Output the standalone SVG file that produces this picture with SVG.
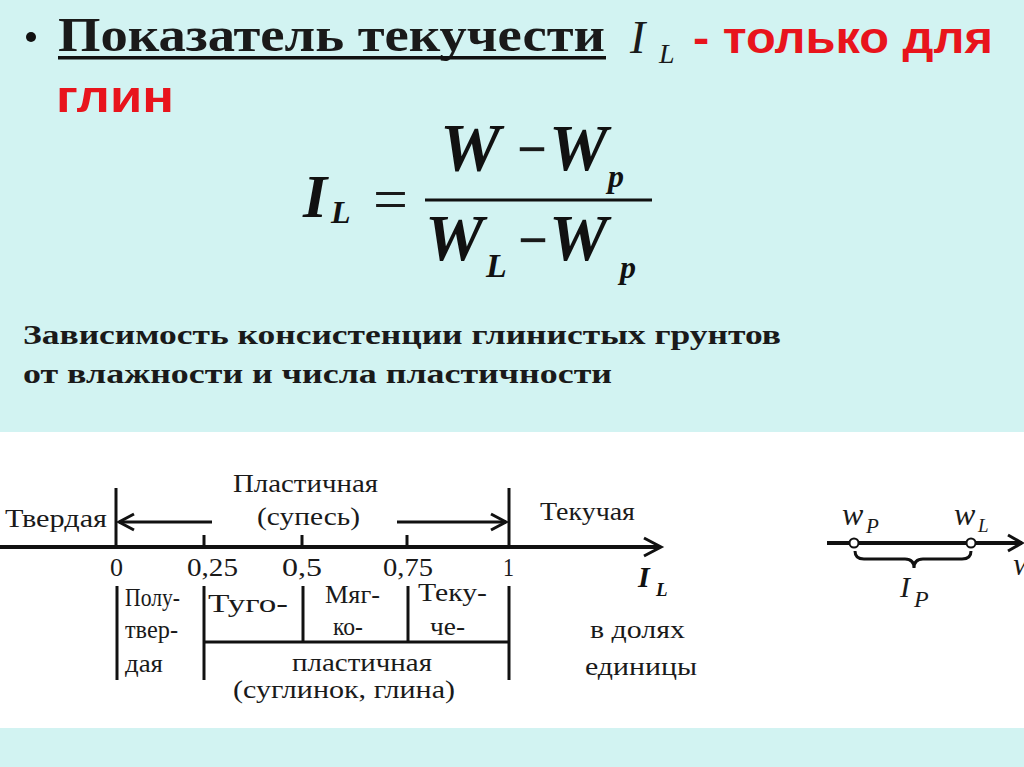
<svg xmlns="http://www.w3.org/2000/svg" width="1024" height="767" viewBox="0 0 1024 767">
<style>
.ser{font-family:"Liberation Serif","Times New Roman",serif;fill:#1a1a1a}
.lbl{font-family:"Liberation Serif","Times New Roman",serif;font-size:26px;fill:#1a1a1a}
.mi{font-family:"Liberation Serif","Times New Roman",serif;font-style:italic;font-weight:bold;fill:#111}
.red{font-family:"Liberation Sans",Arial,sans-serif;font-weight:bold;fill:#e8141c}
.ln{stroke:#111;stroke-width:3;fill:none}
.ax{stroke:#111;stroke-width:4;fill:none}
</style>
<rect x="0" y="0" width="1024" height="767" fill="#d2f3f2"/>
<rect x="0" y="432" width="1024" height="296" fill="#ffffff"/>

<g id="title">
<circle cx="31" cy="37" r="5" fill="#111"/>
<text class="ser" x="58" y="51" font-size="48" font-weight="bold" textLength="547" lengthAdjust="spacingAndGlyphs">Показатель текучести</text>
<rect x="58" y="56" width="548" height="3.5" fill="#111"/>
<text class="ser" x="630" y="53" font-size="46" font-style="italic">I</text>
<text class="ser" x="659" y="63" font-size="28" font-style="italic">L</text>
<text class="red" x="693" y="53" font-size="44" textLength="300" lengthAdjust="spacingAndGlyphs">- только для</text>
<text class="red" x="56" y="112" font-size="44" textLength="118" lengthAdjust="spacingAndGlyphs">глин</text>
</g>

<g id="formula">
<text class="mi" x="303" y="217" font-size="62">I</text>
<text class="mi" x="331" y="223" font-size="32">L</text>
<text class="ser" x="373" y="220" font-size="62">=</text>
<text class="mi" x="440" y="170" font-size="68">W</text>
<text class="ser" x="517" y="168" font-size="56" font-weight="bold" textLength="30" lengthAdjust="spacingAndGlyphs">−</text>
<text class="mi" x="549" y="170" font-size="66">W</text>
<text class="mi" x="608" y="187" font-size="32">p</text>
<line x1="425" y1="200" x2="652" y2="200" stroke="#111" stroke-width="3"/>
<text class="mi" x="425" y="260" font-size="66">W</text>
<text class="mi" x="486" y="277" font-size="34">L</text>
<text class="ser" x="518" y="259" font-size="56" font-weight="bold" textLength="30" lengthAdjust="spacingAndGlyphs">−</text>
<text class="mi" x="549" y="260" font-size="66">W</text>
<text class="mi" x="620" y="278" font-size="32">p</text>
</g>

<g id="subtitle">
<text class="ser" x="23" y="344" font-size="27" font-weight="bold" fill="#262626" textLength="758" lengthAdjust="spacingAndGlyphs">Зависимость консистенции глинистых грунтов</text>
<text class="ser" x="23" y="383" font-size="27" font-weight="bold" fill="#262626" textLength="589" lengthAdjust="spacingAndGlyphs">от влажности  и числа пластичности</text>
</g>

<g id="connectors">
<line class="ax" x1="0" y1="547" x2="660" y2="547"/>
<polyline class="ln" points="644,538 661,547 644,556"/>
<line class="ln" x1="116" y1="488" x2="116" y2="547"/>
<line class="ln" x1="509" y1="488" x2="509" y2="547"/>
<line class="ln" x1="204" y1="535" x2="204" y2="547"/>
<line class="ln" x1="302" y1="535" x2="302" y2="547"/>
<line class="ln" x1="407" y1="535" x2="407" y2="547"/>
<line class="ln" x1="212" y1="522" x2="119" y2="522"/>
<polyline class="ln" points="134,514 119,522 134,530"/>
<line class="ln" x1="397" y1="522" x2="506" y2="522"/>
<polyline class="ln" points="491,514 506,522 491,530"/>
<line class="ln" x1="117" y1="586" x2="117" y2="680"/>
<line class="ln" x1="204" y1="586" x2="204" y2="680"/>
<line class="ln" x1="303" y1="586" x2="303" y2="642"/>
<line class="ln" x1="408" y1="586" x2="408" y2="642"/>
<line class="ln" x1="509" y1="586" x2="509" y2="680"/>
<line class="ln" x1="204" y1="642" x2="509" y2="642"/>
<line class="ax" x1="827" y1="543" x2="1022" y2="543"/>
<polyline class="ln" points="1008,535 1022,543 1008,551"/>
<circle cx="854" cy="543" r="4.5" fill="#fff" stroke="#111" stroke-width="2"/>
<circle cx="971" cy="543" r="4.5" fill="#fff" stroke="#111" stroke-width="2"/>
<path class="ln" d="M855,551 Q855,559 864,559 L905,559 Q914,559 914,568 Q914,559 923,559 L962,559 Q971,559 971,551"/>
</g>

<g id="scale-labels">
<text class="lbl" x="5" y="527" textLength="102" lengthAdjust="spacingAndGlyphs">Твердая</text>
<text class="lbl" x="233" y="492" textLength="145" lengthAdjust="spacingAndGlyphs">Пластичная</text>
<text class="lbl" x="257" y="525" textLength="103" lengthAdjust="spacingAndGlyphs">(супесь)</text>
<text class="lbl" x="540" y="520" textLength="95" lengthAdjust="spacingAndGlyphs">Текучая</text>
<text class="lbl" x="110" y="576" textLength="13" lengthAdjust="spacingAndGlyphs">0</text>
<text class="lbl" x="187" y="576" textLength="51" lengthAdjust="spacingAndGlyphs">0,25</text>
<text class="lbl" x="282" y="576" textLength="40" lengthAdjust="spacingAndGlyphs">0,5</text>
<text class="lbl" x="383" y="576" textLength="50" lengthAdjust="spacingAndGlyphs">0,75</text>
<text class="lbl" x="503" y="576" textLength="11" lengthAdjust="spacingAndGlyphs">1</text>
<text class="mi" x="638" y="587" font-size="30">I</text>
<text class="mi" x="656" y="596" font-size="19">L</text>
</g>

<g id="zones">
<text class="lbl" x="125" y="606" textLength="55" lengthAdjust="spacingAndGlyphs">Полу-</text>
<text class="lbl" x="125" y="638" textLength="53" lengthAdjust="spacingAndGlyphs">твер-</text>
<text class="lbl" x="125" y="672" textLength="38" lengthAdjust="spacingAndGlyphs">дая</text>
<text class="lbl" x="208" y="612" textLength="80" lengthAdjust="spacingAndGlyphs">Туго-</text>
<text class="lbl" x="325" y="603" textLength="55" lengthAdjust="spacingAndGlyphs">Мяг-</text>
<text class="lbl" x="333" y="635" textLength="30" lengthAdjust="spacingAndGlyphs">ко-</text>
<text class="lbl" x="418" y="601" textLength="69" lengthAdjust="spacingAndGlyphs">Теку-</text>
<text class="lbl" x="430" y="635" textLength="35" lengthAdjust="spacingAndGlyphs">че-</text>
<text class="lbl" x="292" y="671" textLength="140" lengthAdjust="spacingAndGlyphs">пластичная</text>
<text class="lbl" x="233" y="698" textLength="222" lengthAdjust="spacingAndGlyphs">(суглинок, глина)</text>
<text class="lbl" x="590" y="638" textLength="95" lengthAdjust="spacingAndGlyphs">в долях</text>
<text class="lbl" x="585" y="675" textLength="112" lengthAdjust="spacingAndGlyphs">единицы</text>
</g>

<g id="plasticity">
<text class="ser" x="842" y="525" font-size="32" font-style="italic">w</text>
<text class="ser" x="866" y="533" font-size="21" font-style="italic">P</text>
<text class="ser" x="954" y="525" font-size="32" font-style="italic">w</text>
<text class="ser" x="978" y="532" font-size="19" font-style="italic">L</text>
<text class="ser" x="900" y="597" font-size="30" font-style="italic">I</text>
<text class="ser" x="914" y="607" font-size="24" font-style="italic">P</text>
<text class="ser" x="1013" y="575" font-size="32" font-style="italic">w</text>
</g>
</svg>
